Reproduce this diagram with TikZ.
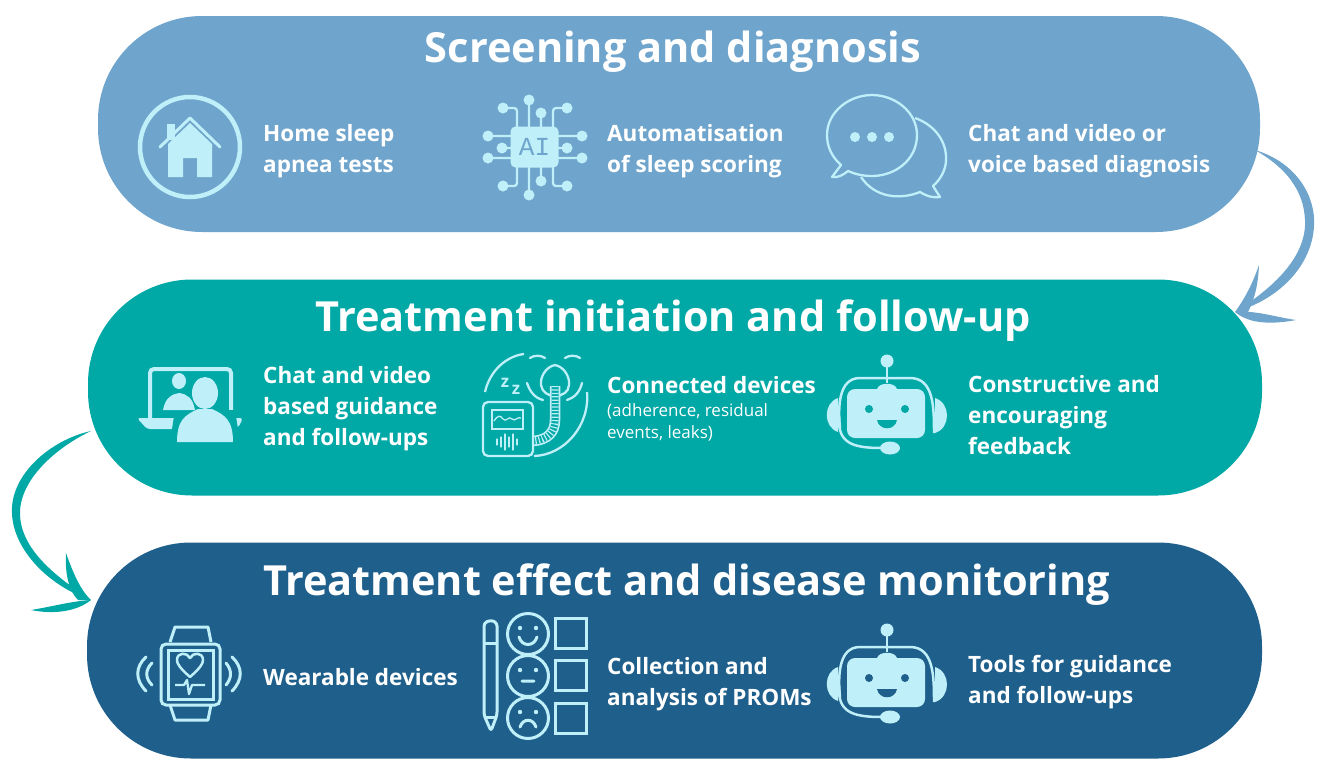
\documentclass[tikz,border=0pt]{standalone}
\usepackage{fontspec}
\setmainfont{Open Sans}
\newfontfamily\chipfont{Liberation Mono}
\definecolor{screenblue}{HTML}{6FA5CC}
\definecolor{treatteal}{HTML}{00A8A6}
\definecolor{monitornavy}{HTML}{1F5F8B}
\definecolor{iconpale}{HTML}{BFEFF8}
\tikzset{
  pics/botface/.style={code={
    \draw[iconline, line width=2.5pt] (-47,15) .. controls (-49,-5) and (-49,-35) .. (-27,-35)
      -- (23,-35) .. controls (47,-35) and (47,-5) .. (47,20);
    \draw[iconline, line width=2.5pt] (-48,5) .. controls (-49,30) and (-35,35) .. (-5,35);
    \fill[iconpale] (-49,-15) .. controls (-64,-10) and (-64,14) .. (-49,19) -- cycle;
    \fill[iconpale] (48,-15) .. controls (64,-10) and (64,15) .. (48,20) -- cycle;
    \draw[iconline, line width=2pt] (0,-52) -- (0,-30);
    \fill[iconpale] (0,-52) circle (6.5);
    \fill[iconpale] (-10,-24) .. controls (-8,-31) and (8,-31) .. (10,-24) -- cycle;
    \fill[iconpale, rounded corners=8pt] (-40,-24) rectangle (38,25);
    \fill[iconpale] (3,35) ellipse (10 and 6.5);
    \fill[#1] (-18,-4) circle (4) (18,-4) circle (4);
    \fill[#1] (-10,7) .. controls (-8,18) and (8,18) .. (10,7) -- cycle;
  }},
  iconline/.style={draw=iconpale, line width=3pt, fill=none},
  thinline/.style={draw=iconpale, line width=2.3pt, fill=none},
  pill/.style={draw=none, rounded corners=104pt, minimum height=216pt, inner sep=0pt, outer sep=0pt},
  bandtitle/.style={draw=none, text=white, font=\fontsize{41.5}{47}\selectfont\bfseries, anchor=base},
  itemtext/.style={draw=none, text=white, font=\fontsize{22.5}{31}\selectfont\bfseries, align=left, anchor=west, inner sep=0pt},
  smalltext/.style={draw=none, text=white, font=\fontsize{17}{22}\selectfont, align=left, anchor=north west, inner sep=0pt},
}

\begin{document}
\begin{tikzpicture}[x=1pt, y=-1pt]
  \useasboundingbox (0,0) rectangle (1325,769);
  % Bands
  \node[pill, fill=screenblue, minimum width=1162pt] (screening) at (679,124) {};
  \node[pill, fill=treatteal, minimum width=1174pt] (treatment) at (675,387.5) {};
  \node[pill, fill=monitornavy, minimum width=1175pt] (monitoring) at (674.5,650.5) {};
  \node[bandtitle] (screeningtitle) at (673,62) {Screening and diagnosis};
  \node[bandtitle] (treatmenttitle) at (673,331) {Treatment initiation and follow-up};
  \node[bandtitle] (monitoringtitle) at (686.5,595) {Treatment effect and disease monitoring};

  % Arrow from band 1 to band 2
  \coordinate (screenout) at (1255,150);
  \coordinate (treatin) at (1235,312);
  \fill[screenblue] (screenout) .. controls (1298,163) and (1316,198) .. (1314,226)
    .. controls (1312,265) and (1280,299) .. (treatin)
    .. controls (1276,286) and (1303,258) .. (1305,226)
    .. controls (1306,195) and (1290,170) .. (screenout);
  \fill[screenblue] (treatin) .. controls (1245,298) and (1252,285) .. (1259,265)
    .. controls (1258,285) and (1255,298) .. (1248,312) -- cycle;
  \fill[screenblue] (treatin) .. controls (1255,310) and (1275,317) .. (1296,320)
    .. controls (1275,324) and (1250,325) .. (treatin);

  % Arrow from band 2 to band 3
  \coordinate (treatout) at (91,431);
  \coordinate (monitorin) at (91,600);
  \fill[treatteal] (treatout) .. controls (50,440) and (10,475) .. (12,513)
    .. controls (13,550) and (50,587) .. (monitorin)
    .. controls (58,578) and (20,550) .. (20,513)
    .. controls (20,480) and (55,448) .. (treatout);
  \fill[treatteal] (monitorin) .. controls (80,590) and (72,570) .. (66,553)
    .. controls (65,572) and (68,590) .. (78,600) -- cycle;
  \fill[treatteal] (monitorin) .. controls (72,601) and (50,607) .. (31,610)
    .. controls (50,614) and (75,613) .. (monitorin);

  % Band 1: house
  \draw[iconline, line width=4.5pt] (190,147) circle (50);
  \fill[iconpale] (167,124) rectangle (175,140);
  \fill[iconpale] (168,144) -- (190,123) -- (212,144) -- (212,177) -- (197,177) -- (197,158)
    -- (183,158) -- (183,177) -- (168,177) -- cycle;
  \draw[iconline, line cap=round, line join=round] (160,147) -- (190,118) -- (220,147);
  \node[itemtext] (homelabel) at (263,151) {Home sleep\\apnea tests};

  % Band 1: AI chip
  \draw[thinline, rounded corners=3pt]
    (529,100) -- (529,127) (541,113) -- (541,127) (529,195) -- (529,167) (541,181) -- (541,167)
    (503,108) -- (517,108) -- (517,127) (567,108) -- (553,108) -- (553,127)
    (503,186) -- (517,186) -- (517,167) (567,186) -- (553,186) -- (553,167)
    (488,136) -- (511,136) (502,148) -- (511,148) (488,158) -- (511,158)
    (582,136) -- (558,136) (567,148) -- (558,148) (582,158) -- (558,158);
  \foreach \px/\py in {529/100, 541/113, 503/108, 567/108, 488/136, 502/148, 488/158,
    582/136, 567/148, 582/158, 503/186, 529/195, 541/181, 567/186}
    \fill[iconpale] (\px,\py) circle (5.5);
  \node[draw=none, fill=iconpale, rounded corners=5pt, minimum width=48pt, minimum height=41pt,
    inner sep=0pt, text=screenblue, font=\fontsize{26}{28}\selectfont\chipfont] (chip) at (534.5,147) {AI};
  \node[itemtext] (scoringlabel) at (607,151) {Automatisation\\of sleep scoring};

  % Band 1: chat bubbles
  \draw[thinline, line join=round] (915,118) .. controls (935,125) and (947,142) .. (946,160)
    .. controls (946,170) and (940,180) .. (933,186) -- (940,197) .. controls (930,198) and (925,195) .. (920,192)
    .. controls (900,200) and (875,198) .. (861,177);
  \draw[thinline, line join=round] (872,95) .. controls (895,95) and (917,112) .. (917,135)
    .. controls (917,160) and (895,176) .. (872,176) .. controls (862,176) and (855,174) .. (848,171)
    .. controls (843,175) and (838,178) .. (832,177) -- (841,165)
    .. controls (832,157) and (827,147) .. (827,135) .. controls (827,112) and (849,95) .. (872,95) -- cycle;
  \foreach \px in {855,872,889}
    \fill[iconpale] (\px,137) circle (5);
  \node[itemtext] (diagnosislabel) at (968,151) {Chat and video or\\voice based diagnosis};

  % Band 2: video call
  \draw[iconline, line width=4pt, rounded corners=4pt] (150,418) -- (150,369) -- (231,369) -- (231,418);
  \fill[iconpale, rounded corners=3pt] (137,418) -- (180,418) -- (178,429) -- (147,429) -- cycle;
  \fill[iconpale, rounded corners=3pt] (232,418) -- (243,418) -- (238,428) -- (232,428) -- cycle;
  \fill[treatteal] (170,442) -- (175,410) -- (235,410) -- (240,442) -- cycle;
  \fill[iconpale] (179,381) ellipse (7 and 8);
  \fill[iconpale] (163,410) .. controls (165,398) and (172,394) .. (179,393)
    .. controls (187,394) and (193,398) .. (195,410) -- cycle;
  \fill[iconpale] (205,393) ellipse (13 and 16);
  \fill[iconpale] (177,442) .. controls (177,420) and (185,415) .. (198,409) -- (212,409)
    .. controls (225,415) and (233,420) .. (233,442) -- cycle;
  \node[itemtext] (guidancelabel) at (263,409) {Chat and video\\based guidance\\and follow-ups};

  % Band 2: sleeping patient and device
  \draw[thinline] (485,392) .. controls (490,370) and (507,356) .. (524,354);
  \draw[thinline] (587,392) .. controls (590,425) and (565,455) .. (534,456);
  \draw[thinline, line cap=round] (530,358) .. controls (534,355) and (541,355) .. (545,358)
    (565,358) .. controls (569,355) and (576,355) .. (580,358)
    (527,383) .. controls (530,392) and (535,398) .. (543,400)
    (582,383) .. controls (580,392) and (574,398) .. (567,400);
  \draw[thinline] (555,365) .. controls (545,367) and (540,378) .. (541,385)
    .. controls (542,392) and (548,396) .. (555,396) .. controls (562,396) and (569,392) .. (569,385)
    .. controls (570,378) and (565,367) .. (555,365);
  \draw[iconpale, line width=10.5pt] (555,386) -- (555,420) .. controls (555,432) and (548,440) .. (533,441);
  \draw[treatteal, line width=7pt] (555,386) -- (555,420) .. controls (555,432) and (548,440) .. (533,441);
  \draw[iconpale, line width=7pt, dash pattern=on 1.2pt off 2.2pt] (555,386) -- (555,420) .. controls (555,432) and (548,440) .. (533,441);
  \draw[thinline, rounded corners=5pt, fill=treatteal] (483,402) rectangle (533,456);
  \draw[thinline] (492,410) rectangle (523,429);
  \draw[thinline, line width=1.3pt] (494,421) .. controls (498,415) and (500,415) .. (503,419)
    .. controls (506,423) and (509,415) .. (512,419) .. controls (515,422) and (518,416) .. (521,418);
  \foreach \px/\ph in {497/3, 501/5, 505/8, 509/5, 513/8, 517/3}
    \draw[thinline, line width=1.3pt, line cap=round] (\px,442-\ph) -- (\px,442+\ph);
  \node[draw=none, text=iconpale, font=\fontsize{17}{18}\selectfont\bfseries, inner sep=0pt] (sleepz) at (505,383) {z};
  \node[draw=none, text=iconpale, font=\fontsize{17}{18}\selectfont\bfseries, inner sep=0pt] (sleepzz) at (516,390) {z};
  \node[itemtext] (deviceslabel) at (607,385) {Connected devices};
  \node[smalltext] (deviceslist) at (607,403) {(adherence, residual\\events, leaks)};

  % Band 2: chatbot
  \pic (botone) at (887,413) {botface=treatteal};
  \node[itemtext] (feedbacklabel) at (968,415) {Constructive and\\encouraging\\feedback};

  % Band 3: smart watch
  \draw[iconline, line join=round] (170,642) -- (175,627) -- (208,627) -- (211,642)
    (170,705) -- (175,720) -- (208,720) -- (211,705);
  \draw[iconline, rounded corners=5pt] (161,644) rectangle (220,705);
  \draw[iconline] (168,650) rectangle (213,699);
  \draw[thinline, line width=2.5pt, line join=round] (190,677) .. controls (180,668) and (177,664) .. (177,660)
    .. controls (177,652) and (187,652) .. (190,658) .. controls (193,652) and (203,652) .. (203,660)
    .. controls (203,664) and (200,668) .. (190,677) -- cycle;
  \draw[thinline, line join=round] (175,685) -- (184,685) -- (187,680) -- (189,694) -- (192,685) -- (205,685);
  \draw[iconline, line cap=round] (146,657) .. controls (135,667) and (135,680) .. (146,691)
    (152,663) .. controls (145,670) and (145,678) .. (152,685)
    (232,657) .. controls (243,667) and (243,680) .. (232,691)
    (226,663) .. controls (232,670) and (232,678) .. (226,685);
  \node[itemtext] (wearablelabel) at (263,677) {Wearable devices};

  % Band 3: questionnaire
  \draw[iconline, line join=round, rounded corners=3pt] (484,623) -- (491,620) -- (497,623) -- (497,715)
    -- (491,731) -- (484,715) -- cycle;
  \draw[iconline] (484,643) -- (497,643) (484,717) -- (497,717);
  \foreach \py in {634,676,718}
    \draw[iconline] (528,\py) circle (20.5);
  \foreach \py in {618,660,703}
    \draw[iconline] (555,\py) rectangle (586,\py+30);
  \fill[iconpale] (520,628) circle (2.2) (536,628) circle (2.2)
    (520,670) circle (2.2) (536,670) circle (2.2) (520,712) circle (2.2) (536,712) circle (2.2);
  \draw[iconline, line cap=round] (519,637) .. controls (522,647) and (534,647) .. (537,637)
    (522,681) -- (534,681) (520,727) .. controls (523,718) and (533,718) .. (536,727);
  \node[itemtext] (promslabel) at (607,684) {Collection and\\analysis of PROMs};

  % Band 3: chatbot
  \pic (bottwo) at (887,682) {botface=monitornavy};
  \node[itemtext] (followlabel) at (968,682) {Tools for guidance\\and follow-ups};
\end{tikzpicture}
\end{document}
